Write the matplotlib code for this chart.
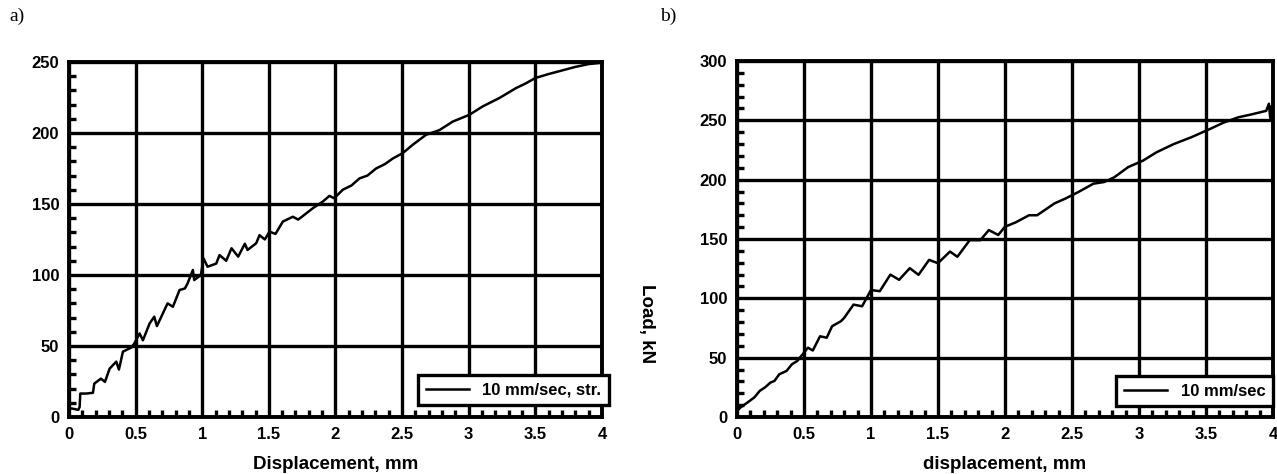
import matplotlib
matplotlib.use("Agg")
import matplotlib.pyplot as plt
from matplotlib.ticker import MultipleLocator

plt.rcParams['font.family'] = ['Liberation Sans', 'DejaVu Sans']
plt.rcParams['font.weight'] = 'bold'

# a) 10 mm/sec, str.
disp_a = [0.0, 0.02, 0.07, 0.08, 0.085, 0.13, 0.18, 0.19, 0.24, 0.27, 0.305, 0.355, 0.375,
          0.405, 0.47, 0.49, 0.53, 0.555, 0.605, 0.64, 0.66, 0.705, 0.74, 0.78, 0.83, 0.87,
          0.89, 0.93, 0.94, 0.99, 1.01, 1.04, 1.105, 1.13, 1.18, 1.22, 1.27, 1.32, 1.34,
          1.405, 1.43, 1.47, 1.505, 1.55, 1.605, 1.68, 1.72, 1.755, 1.83, 1.905, 1.955, 1.99,
          2.055, 2.12, 2.18, 2.24, 2.305, 2.37, 2.43, 2.505, 2.58, 2.68, 2.78, 2.88, 3.005,
          3.105, 3.23, 3.355, 3.43, 3.5, 3.6, 3.7, 3.8, 3.9, 4.0]
load_a = [6, 6, 5, 7, 16.5, 16.5, 17, 23.5, 27, 24.7, 34, 39, 33.4,
          46, 49, 51.7, 58.8, 54, 65.8, 70.6, 64, 73, 80, 77.6, 89.4, 90.5,
          94, 103.5, 96.4, 100, 111.7, 105.8, 108, 114, 110, 118.8, 112.9, 122, 117.6,
          122.3, 128, 125, 130.5, 128.9, 137.6, 141, 139, 141.5, 147, 151.7, 155.7, 154,
          160, 163, 168, 170, 175, 178, 182, 185.8, 191.7, 198.7, 202, 208, 212.8,
          218.7, 224.6, 231.6, 235, 238.7, 241.5, 244, 246.5, 248.5, 249.5]

# b) 10 mm/sec
disp_b = [0.0, 0.026, 0.08, 0.13, 0.17, 0.21, 0.25, 0.28, 0.316, 0.37, 0.41, 0.45, 0.49,
          0.53, 0.566, 0.62, 0.67, 0.71, 0.776, 0.80, 0.87, 0.934, 1.0, 1.066, 1.145, 1.21,
          1.29, 1.355, 1.434, 1.5, 1.59, 1.645, 1.737, 1.816, 1.88, 1.95, 2.0, 2.08, 2.18,
          2.24, 2.37, 2.45, 2.55, 2.66, 2.74, 2.816, 2.92, 3.03, 3.13, 3.26, 3.39, 3.53,
          3.63, 3.74, 3.84, 3.95, 3.97, 3.98, 3.99, 4.0]
load_b = [5, 8, 12.3, 16.5, 22, 25, 29, 30.4, 36, 38.8, 44.4, 47.2, 52.8,
          58.4, 56, 68, 66.8, 76.5, 80.7, 83.5, 94.7, 93.3, 107, 106, 120, 115.6,
          125.4, 119.8, 132.4, 129.6, 139.4, 135, 149, 149, 157.5, 153.4, 160.3, 164, 170,
          170, 180, 184, 189.7, 196.6, 198, 202, 210.6, 216, 223, 230, 235.7, 242.7,
          248, 252.5, 255, 258, 264, 252, 262, 256]

fig = plt.figure(figsize=(12.77, 4.74), dpi=100)
ax_a = fig.add_axes([0.054, 0.1203, 0.4174, 0.749])
ax_b = fig.add_axes([0.5771, 0.1203, 0.4197, 0.751])


def style(ax, ymax, xlabel):
    ax.set_xlim(0, 4)
    ax.set_ylim(0, ymax)
    ax.xaxis.set_major_locator(MultipleLocator(0.5))
    ax.xaxis.set_minor_locator(MultipleLocator(0.1))
    ax.yaxis.set_major_locator(MultipleLocator(50))
    ax.yaxis.set_minor_locator(MultipleLocator(10))
    ax.xaxis.set_major_formatter(plt.FuncFormatter(lambda v, p: f"{v:g}"))
    ax.grid(True, which='major', color='black', linewidth=2.4)
    ax.tick_params(which='major', length=0, labelsize=12, pad=7)
    ax.tick_params(which='minor', direction='in', length=5, width=2.4, color='black')
    for s in ax.spines.values():
        s.set_linewidth(2.8)
    ax.set_xlabel(xlabel, fontsize=13.5, fontweight='bold', labelpad=10)


ax_a.plot(disp_a, load_a, color='black', lw=1.8, label='10 mm/sec, str.')
style(ax_a, 250, 'Displacement, mm')
leg = ax_a.legend(loc='lower right', bbox_to_anchor=(1.013, 0.034), fancybox=False,
                  edgecolor='black', framealpha=1, handlelength=2.6, borderaxespad=0,
                  borderpad=0.45, prop={'weight': 'bold', 'size': 12})
leg.get_frame().set_linewidth(2.4)

ax_b.plot(disp_b, load_b, color='black', lw=1.8, label='10 mm/sec')
style(ax_b, 300, 'displacement, mm')
leg = ax_b.legend(loc='lower right', bbox_to_anchor=(1.0, 0.03), fancybox=False,
                  edgecolor='black', framealpha=1, handlelength=2.6, borderaxespad=0,
                  borderpad=0.45, prop={'weight': 'bold', 'size': 12})
leg.get_frame().set_linewidth(2.4)

fig.text(0.506, 0.318, 'Load, kN', rotation=270, ha='center', va='center',
         fontsize=13.5, fontweight='bold')
fig.text(0.007, 0.965, 'a)', fontsize=14, family='Liberation Serif',
         fontweight='normal', va='center')
fig.text(0.517, 0.965, 'b)', fontsize=14, family='Liberation Serif',
         fontweight='normal', va='center')

fig.savefig('out.png', dpi=100)
